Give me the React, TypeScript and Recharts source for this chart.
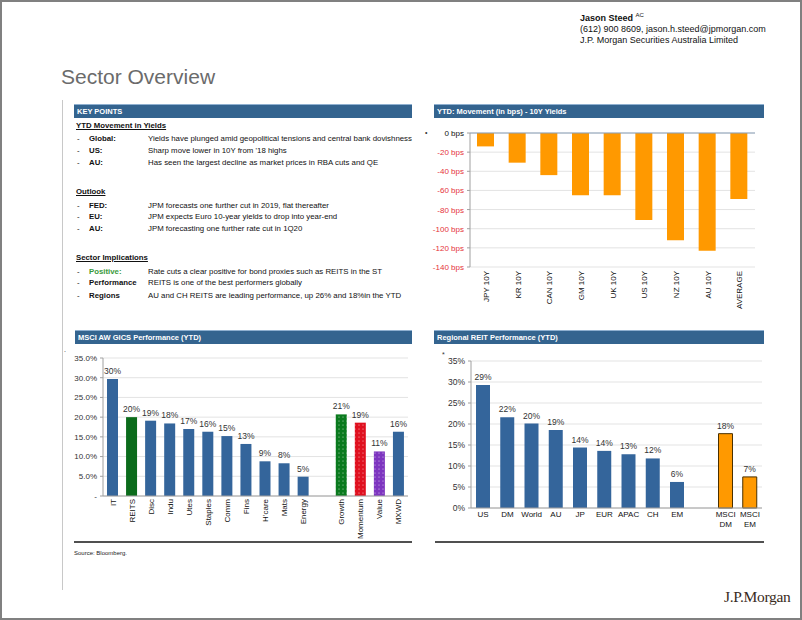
import React from 'react';
import { BarChart, Bar, XAxis, YAxis, CartesianGrid, Cell, LabelList, ReferenceLine } from 'recharts';

// YTD movement in 10Y yields (bps)
const yieldMarkets = ['JPY 10Y', 'KR 10Y', 'CAN 10Y', 'GM 10Y', 'UK 10Y', 'US 10Y', 'NZ 10Y', 'AU 10Y', 'AVERAGE'];
const yieldMoveBps = [-14, -31, -44, -65, -65, -91, -112, -123, -69];
const yieldTicks = [0, -20, -40, -60, -80, -100, -120, -140];

// MSCI AW GICS performance (YTD, %)
const gicsSectors = ['IT', 'REITS', 'Disc', 'Indu', 'Utes', 'Staples', 'Comm', 'Fins', "H'care", 'Mats', 'Energy', ' ', 'Growth', 'Momentum', 'Value', 'MXWD'];
const gicsReturnPct = [29.7, 20, 19.1, 18.4, 17, 16.3, 15.2, 13.2, 8.8, 8.3, 4.9, null, 20.7, 18.6, 11.3, 16.3];
const pctTicks = [0, 5, 10, 15, 20, 25, 30, 35];

// Regional REIT performance (YTD, %)
const reitRegions = ['US', 'DM', 'World', 'AU', 'JP', 'EUR', 'APAC', 'CH', 'EM', ' ', 'MSCI DM', 'MSCI EM'];
const reitReturnPct = [29.3, 21.6, 20.1, 18.6, 14.4, 13.6, 12.8, 11.8, 6.2, null, 17.7, 7.4];

const yieldData = yieldMarkets.map((market, i) => ({ market, bps: yieldMoveBps[i] }));
const gicsData = gicsSectors.map((sector, i) => ({ sector, ret: gicsReturnPct[i] }));
const reitData = reitRegions.map((region, i) => ({ region, ret: reitReturnPct[i] }));

const BLUE = '#34659b';
const ORANGE = '#ff9900';
const SANS = '"Liberation Sans", Arial, sans-serif';
const NARROW = '"Liberation Sans Narrow", "Liberation Sans", Arial, sans-serif';

const gicsFill: Record<string, string> = {
  REITS: '#0b6b1b',
  Growth: 'url(#dotGreen)',
  Momentum: 'url(#dotRed)',
  Value: 'url(#dotPurple)',
};

const pctLabel = (v: any) => (v == null ? '' : `${Math.round(v)}%`);

const RotatedTick = (props: any) => {
  const { x, y, payload } = props;
  return (
    <g transform={`translate(${x},${y})`}>
      <text transform="rotate(-90)" x={0} y={0} dy={3} textAnchor="end" fontSize={8} fill="#111" fontFamily={NARROW}>
        {payload.value}
      </text>
    </g>
  );
};

const BpsTick = (props: any) => {
  const { x, y, payload } = props;
  return (
    <text x={x} y={y} dy={3} textAnchor="end" fontSize={8} fontFamily={NARROW} fill={payload.value === 0 ? '#111' : '#e5333b'}>
      {`${payload.value} bps`}
    </text>
  );
};

const TwoLineTick = (props: any) => {
  const { x, y, payload } = props;
  const parts = String(payload.value).split(' ');
  return (
    <text x={x} y={y} textAnchor="middle" fontSize={8} fill="#111" fontFamily={NARROW}>
      {parts.map((p, i) => (
        <tspan key={i} x={x} dy={i === 0 ? 7 : 10}>{p}</tspan>
      ))}
    </text>
  );
};

const Dots = ({ id, color }: { id: string; color: string }) => (
  <pattern id={id} width="4" height="4" patternUnits="userSpaceOnUse">
    <rect width="4" height="4" fill={color} />
    <circle cx="1" cy="1" r="0.55" fill="#ffffff" opacity="0.75" />
  </pattern>
);

const abs = (left: number, top: number, extra: React.CSSProperties = {}): React.CSSProperties => ({
  position: 'absolute',
  left,
  top,
  whiteSpace: 'nowrap',
  ...extra,
});

const HeaderBar = ({ left, top, width, text }: { left: number; top: number; width: number; text: string }) => (
  <div
    style={abs(left, top, {
      width,
      height: 14,
      background: '#34648f',
      borderTop: '1px solid #8fb0d0',
      boxSizing: 'border-box',
      color: '#fff',
      fontWeight: 'bold',
      fontSize: 7.5,
      lineHeight: '13px',
      paddingLeft: 3,
      fontFamily: SANS,
    })}
  >
    {text}
  </div>
);

const kpRow = (top: number, label: string, text: string, labelColor = '#111') => (
  <React.Fragment key={top}>
    <div style={abs(77, top, { fontSize: 7.8 })}>-</div>
    <div style={abs(89, top, { fontSize: 7.8, fontWeight: 'bold', color: labelColor })}>{label}</div>
    <div style={abs(148, top, { fontSize: 7.85 })}>{text}</div>
  </React.Fragment>
);

export default function App() {
  return (
    <div
      style={{
        position: 'absolute',
        left: 0,
        top: 0,
        width: 802,
        height: 620,
        border: '2px solid #808080',
        boxSizing: 'border-box',
        background: '#fff',
        fontFamily: SANS,
        color: '#111',
        overflow: 'hidden',
      }}
    >
      <div style={{ position: 'absolute', left: -2, top: -2, width: 802, height: 620 }}>
        {/* author block */}
        <div style={abs(580, 10, { fontSize: 9, lineHeight: '11px' })}>
          <div>
            <b>Jason Steed</b> <sup style={{ fontSize: 6 }}>AC</sup>
          </div>
          <div>(612) 900 8609, jason.h.steed@jpmorgan.com</div>
          <div>J.P. Morgan Securities Australia Limited</div>
        </div>

        <div style={abs(61, 64, { fontSize: 21, lineHeight: '26px', color: '#6b6b6b' })}>Sector Overview</div>

        <div style={abs(62, 100, { width: 1, height: 490, background: '#c8c8c8' })} />

        {/* key points */}
        <HeaderBar left={74} top={104} width={338} text="KEY POINTS" />
        <div style={{ position: 'absolute', left: 0, top: 0, lineHeight: '10px', color: '#111' }}>
          <div style={abs(76, 121, { fontSize: 7.8, fontWeight: 'bold', textDecoration: 'underline' })}>YTD Movement in Yields</div>
          {kpRow(134, 'Global:', 'Yields have plunged amid geopolitical tensions and central bank dovishness')}
          {kpRow(146, 'US:', "Sharp move lower in 10Y from '18 highs")}
          {kpRow(158, 'AU:', 'Has seen the largest decline as market prices in RBA cuts and QE')}
          <div style={abs(76, 187, { fontSize: 7.8, fontWeight: 'bold', textDecoration: 'underline' })}>Outlook</div>
          {kpRow(201, 'FED:', 'JPM forecasts one further cut in 2019, flat thereafter')}
          {kpRow(212, 'EU:', 'JPM expects Euro 10-year yields to drop into year-end')}
          {kpRow(224, 'AU:', 'JPM forecasting one further rate cut in 1Q20')}
          <div style={abs(76, 253, { fontSize: 7.8, fontWeight: 'bold', textDecoration: 'underline' })}>Sector Implications</div>
          {kpRow(267, 'Positive:', 'Rate cuts a clear positive for bond proxies such as REITS in the ST', '#3a9a3a')}
          {kpRow(278, 'Performance', 'REITS is one of the best performers globally')}
          {kpRow(291, 'Regions', 'AU and CH REITS are leading performance, up 26% and 18%in the YTD')}
        </div>

        {/* YTD yields chart */}
        <HeaderBar left={434} top={104} width={330} text="YTD: Movement (in bps) - 10Y Yields" />
        <div style={abs(425, 129, { fontSize: 7, color: '#333' })}>•</div>
        <div style={abs(420, 122)}>
          <BarChart width={345} height={190} data={yieldData} margin={{ top: 11, right: 10, left: 0, bottom: 0 }}>
            <CartesianGrid vertical={false} stroke="#e3e3e3" />
            <XAxis dataKey="market" interval={0} axisLine={false} tickLine={false} tickSize={0} tickMargin={4} height={45} tick={<RotatedTick />} />
            <YAxis
              width={50}
              domain={[-140, 0]}
              ticks={yieldTicks}
              interval={0}
              axisLine={{ stroke: '#a0a0a0' }}
              tickLine={{ stroke: '#a0a0a0' }}
              tickSize={3}
              tickMargin={3}
              tick={<BpsTick />}
            />
            <ReferenceLine y={0} stroke="#8aa0b8" />
            <Bar dataKey="bps" fill={ORANGE} barSize={17} isAnimationActive={false} />
          </BarChart>
        </div>

        {/* MSCI AW GICS */}
        <HeaderBar left={75} top={330} width={337} text="MSCI AW GICS Performance (YTD)" />
        <div style={abs(64, 346, { fontSize: 7, color: '#333' })}>.</div>
        <div style={abs(62, 348)}>
          <BarChart width={350} height={194} data={gicsData} margin={{ top: 10, right: 4, left: 0, bottom: 0 }}>
            <defs>
              <Dots id="dotGreen" color="#0a7a1e" />
              <Dots id="dotRed" color="#e0101f" />
              <Dots id="dotPurple" color="#7d35c0" />
            </defs>
            <CartesianGrid vertical={false} stroke="#e3e3e3" />
            <XAxis dataKey="sector" interval={0} axisLine={{ stroke: '#a0a0a0' }} tickLine={false} tickSize={0} tickMargin={3} height={46} tick={<RotatedTick />} />
            <YAxis
              width={41}
              domain={[0, 35]}
              ticks={pctTicks}
              interval={0}
              axisLine={{ stroke: '#a0a0a0' }}
              tickLine={{ stroke: '#a0a0a0' }}
              tickSize={3}
              tickMargin={3}
              tick={{ fontSize: 8, fill: '#333', fontFamily: NARROW }}
              tickFormatter={(v: number) => (v === 0 ? '-' : `${v.toFixed(1)}%`)}
            />
            <Bar dataKey="ret" barSize={11} isAnimationActive={false}>
              {gicsData.map((d, i) => (
                <Cell key={i} fill={gicsFill[d.sector] ?? BLUE} />
              ))}
              <LabelList dataKey="ret" position="top" offset={5} fontSize={8.5} fill="#333" fontFamily={NARROW} formatter={pctLabel} />
            </Bar>
          </BarChart>
        </div>

        {/* Regional REIT */}
        <HeaderBar left={434} top={330} width={330} text="Regional REIT Performance (YTD)" />
        <div style={abs(442, 351, { fontSize: 7, color: '#333' })}>*</div>
        <div style={abs(420, 350)}>
          <BarChart width={350} height={190} data={reitData} margin={{ top: 11, right: 8, left: 0, bottom: 0 }}>
            <CartesianGrid vertical={false} stroke="#e3e3e3" />
            <XAxis dataKey="region" interval={0} axisLine={{ stroke: '#a0a0a0' }} tickLine={false} tickSize={0} tickMargin={2} height={32} tick={<TwoLineTick />} />
            <YAxis
              width={51}
              domain={[0, 35]}
              ticks={pctTicks}
              interval={0}
              axisLine={{ stroke: '#a0a0a0' }}
              tickLine={{ stroke: '#a0a0a0' }}
              tickSize={3}
              tickMargin={3}
              tick={{ fontSize: 8.5, fill: '#333', fontFamily: NARROW }}
              tickFormatter={(v: number) => `${v}%`}
            />
            <Bar dataKey="ret" barSize={14} isAnimationActive={false}>
              {reitData.map((d, i) => (
                <Cell
                  key={i}
                  fill={d.region.startsWith('MSCI') ? ORANGE : BLUE}
                  stroke={d.region.startsWith('MSCI') ? '#4a3000' : 'none'}
                  strokeWidth={1}
                />
              ))}
              <LabelList dataKey="ret" position="top" offset={5} fontSize={8.5} fill="#333" fontFamily={NARROW} formatter={pctLabel} />
            </Bar>
          </BarChart>
        </div>

        {/* bottom rules and footer */}
        <div style={abs(74, 541, { width: 338, height: 2, background: '#505050' })} />
        <div style={abs(435, 541, { width: 329, height: 2, background: '#505050' })} />
        <div style={abs(74, 550, { fontSize: 6, color: '#222' })}>Source: Bloomberg.</div>
        <div
          style={abs(724, 588, {
            fontSize: 15.5,
            fontFamily: '"Liberation Serif", "DejaVu Serif", serif',
            color: '#3a2b22',
            letterSpacing: -0.3,
          })}
        >
          J.P.Morgan
        </div>
      </div>
    </div>
  );
}
